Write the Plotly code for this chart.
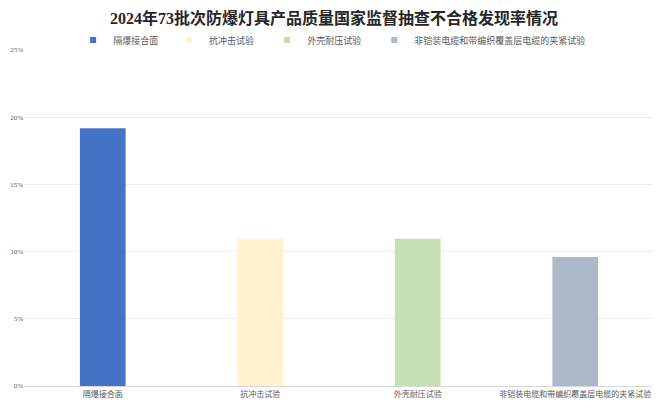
import plotly.graph_objects as go

# data
categories = ["隔爆接合面", "抗冲击试验", "外壳耐压试验", "非铠装电缆和带编织覆盖层电缆的夹紧试验"]
rates = [19.18, 10.96, 10.96, 9.59]
colors = ["#4472C4", "#FFF2CC", "#C5E0B4", "#ADB9CA"]
y_ticks = [0, 5, 10, 15, 20, 25]
y_labels = ["0%", "5%", "10%", "15%", "20%", "25%"]

# one legend box per series so the entries sit where the original has them
legend_x = [0.078, 0.230, 0.386, 0.556]

font_family = "Times New Roman, Liberation Serif, Noto Sans CJK SC, serif"

# the page body adds an 8px margin, so the figure is 8px smaller each way
W, H = 652, 407

fig = go.Figure()
legend_layout = {}
for i, (cat, val, col) in enumerate(zip(categories, rates, colors)):
    lg = "legend" if i == 0 else f"legend{i + 1}"
    fig.add_trace(go.Bar(
        x=[cat], y=[val], name=cat,
        marker=dict(color=col, line=dict(width=0)),
        width=0.29, showlegend=False,
    ))
    # small square legend entries, like the original
    fig.add_trace(go.Scatter(
        x=[None], y=[None], name=cat, mode="markers", legend=lg,
        marker=dict(symbol="square", size=6, color=col),
    ))
    legend_layout[lg] = dict(
        orientation="h", x=legend_x[i], xanchor="left",
        yref="container", y=1 - 32 / H, yanchor="middle",
        font=dict(size=9, color="#595959"),
        itemwidth=30, bgcolor="rgba(0,0,0,0)",
    )

fig.update_layout(
    width=W, height=H,
    barmode="overlay",
    plot_bgcolor="white",
    paper_bgcolor="white",
    font=dict(family=font_family, color="#595959", size=9),
    title=dict(
        text="<b>2024年73批次防爆灯具产品质量国家监督抽查不合格发现率情况</b>",
        x=0.5, xanchor="center", yref="container", y=1 - 10 / H, yanchor="middle",
        font=dict(size=16, color="#262626", family=font_family),
    ),
    margin=dict(l=16, r=6, t=42, b=29, autoexpand=False),
    showlegend=True,
    **legend_layout,
)
fig.update_xaxes(
    showgrid=False, showline=True, linecolor="#D9D9D9", linewidth=1,
    ticks="", tickfont=dict(size=8, color="#595959"),
)
fig.update_yaxes(
    range=[0, 25], tickvals=y_ticks, ticktext=y_labels,
    showgrid=True, gridcolor="#EDEDED", gridwidth=1,
    zeroline=False, showline=False,
    tickfont=dict(size=7, color="#595959"),
)

fig.write_html("out.html")
